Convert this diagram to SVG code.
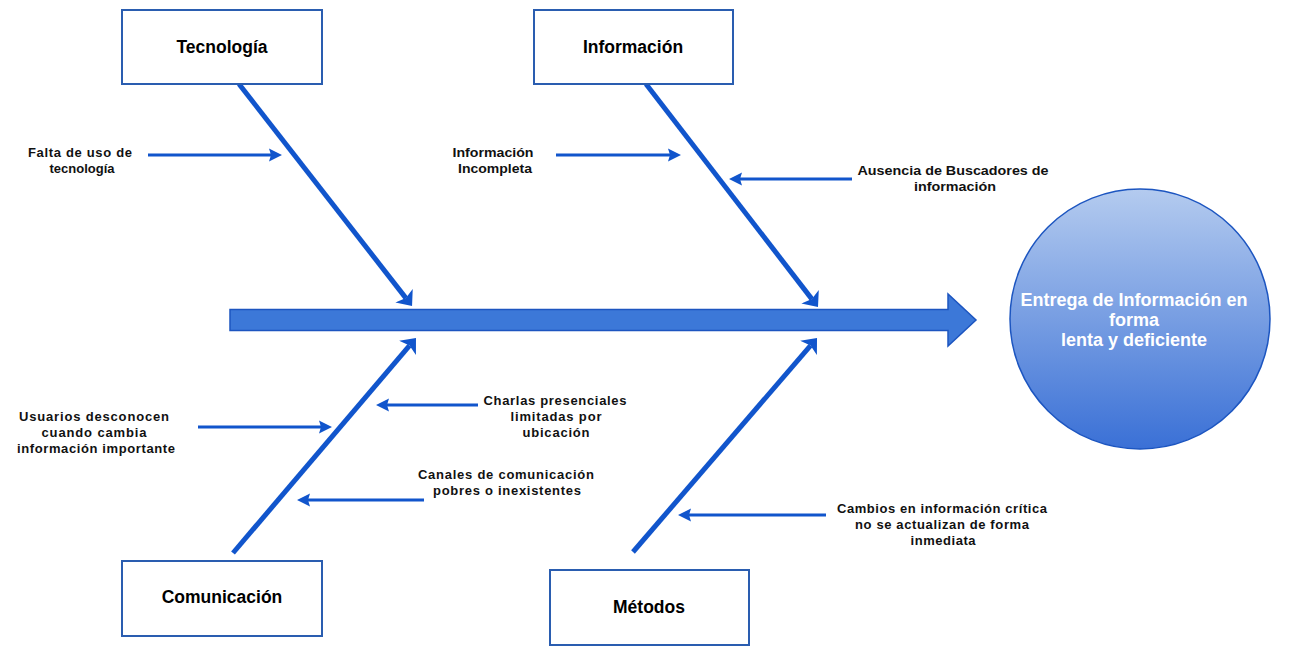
<svg xmlns="http://www.w3.org/2000/svg" width="1306" height="665" viewBox="0 0 1306 665">
<style>
.box{fill:#fff;stroke:#2a5db0;stroke-width:2}
.title{font-family:"Liberation Sans",Arial,sans-serif;font-weight:bold;font-size:17.5px;fill:#000;text-anchor:middle}
.lbl{font-family:"Liberation Sans",Arial,sans-serif;font-weight:bold;font-size:13px;fill:#111;text-anchor:middle}
.bone{stroke:#1155cc;stroke-width:5;fill:none;marker-end:url(#bh)}
.sub{stroke:#1155cc;stroke-width:3;fill:none;marker-end:url(#sh)}
.res{font-family:"Liberation Sans",Arial,sans-serif;font-weight:bold;font-size:18px;fill:#fff;text-anchor:middle}
</style>
<defs>
<marker id="bh" markerWidth="14" markerHeight="22" refX="3" refY="11" orient="auto" markerUnits="userSpaceOnUse">
<path d="M0,0 L13,11 L0,22 L3,11 Z" fill="#1155cc"/>
</marker>
<marker id="sh" markerWidth="14" markerHeight="14" refX="2" refY="7" orient="auto" markerUnits="userSpaceOnUse">
<path d="M0,0.5 L13,7 L0,13.5 L2,7 Z" fill="#1155cc"/>
</marker>
<linearGradient id="cg" x1="0" y1="0" x2="0" y2="1">
<stop offset="0" stop-color="#b4cbef"/>
<stop offset="1" stop-color="#3a70d6"/>
</linearGradient>
</defs>
<rect width="1306" height="665" fill="#fff"/>
<g id="spine">
<path d="M230,309.5 L948,309.5 L948,294 L976,320 L948,346 L948,330.5 L230,330.5 Z" fill="#3c78d8" stroke="#1c55c0" stroke-width="1.5"/>
</g>
<g id="connectors">
<line class="bone" x1="239" y1="84" x2="405.9" y2="298.1"/>
<line class="bone" x1="646" y1="84" x2="811.9" y2="299.1"/>
<line class="bone" x1="233" y1="553" x2="409.5" y2="345.6"/>
<line class="bone" x1="633" y1="552" x2="810.5" y2="345.6"/>
<line class="sub" x1="148" y1="155" x2="271" y2="155"/>
<line class="sub" x1="556" y1="155" x2="670" y2="155"/>
<line class="sub" x1="852" y1="179" x2="740" y2="179"/>
<line class="sub" x1="198" y1="427" x2="321" y2="427"/>
<line class="sub" x1="478" y1="405" x2="387" y2="405"/>
<line class="sub" x1="424" y1="500" x2="308" y2="500"/>
<line class="sub" x1="826" y1="515" x2="689" y2="515"/>
</g>
<g id="tecnologia">
<rect class="box" x="122" y="10" width="200" height="74"/>
<text class="title" x="222" y="53">Tecnología</text>
</g>
<g id="informacion">
<rect class="box" x="534" y="10" width="199" height="74"/>
<text class="title" x="633" y="53">Información</text>
</g>
<g id="comunicacion">
<rect class="box" x="122" y="561" width="200" height="75"/>
<text class="title" x="222" y="603">Comunicación</text>
</g>
<g id="metodos">
<rect class="box" x="550" y="570" width="199" height="75"/>
<text class="title" x="649" y="613">Métodos</text>
</g>
<g id="resultado">
<circle cx="1140" cy="319" r="130" fill="url(#cg)" stroke="#1c55c0" stroke-width="1.5"/>
<text class="res" x="1134" y="306">Entrega de Información en</text>
<text class="res" x="1134" y="326">forma</text>
<text class="res" x="1134" y="346">lenta y deficiente</text>
</g>
<g id="causes">
<text class="lbl" x="80" y="157" textLength="104" lengthAdjust="spacing">Falta de uso de</text>
<text class="lbl" x="82" y="173">tecnología</text>
<text class="lbl" x="493" y="157" textLength="81" lengthAdjust="spacingAndGlyphs">Información</text>
<text class="lbl" x="495" y="173" textLength="74" lengthAdjust="spacingAndGlyphs">Incompleta</text>
<text class="lbl" x="953" y="175" textLength="191" lengthAdjust="spacingAndGlyphs">Ausencia de Buscadores de</text>
<text class="lbl" x="955" y="191" textLength="82" lengthAdjust="spacingAndGlyphs">información</text>
<text class="lbl" x="94" y="421" textLength="150" lengthAdjust="spacing">Usuarios desconocen</text>
<text class="lbl" x="94" y="437" textLength="105" lengthAdjust="spacing">cuando cambia</text>
<text class="lbl" x="96" y="453" textLength="158" lengthAdjust="spacing">información importante</text>
<text class="lbl" x="555" y="405" textLength="143" lengthAdjust="spacing">Charlas presenciales</text>
<text class="lbl" x="556" y="421" textLength="91" lengthAdjust="spacing">limitadas por</text>
<text class="lbl" x="556" y="437" textLength="67" lengthAdjust="spacing">ubicación</text>
<text class="lbl" x="506" y="479" textLength="176" lengthAdjust="spacing">Canales de comunicación</text>
<text class="lbl" x="507" y="495" textLength="148" lengthAdjust="spacing">pobres o inexistentes</text>
<text class="lbl" x="942" y="513" textLength="210" lengthAdjust="spacing">Cambios en información crítica</text>
<text class="lbl" x="942" y="529" textLength="174" lengthAdjust="spacing">no se actualizan de forma</text>
<text class="lbl" x="943" y="545" textLength="65" lengthAdjust="spacing">inmediata</text>
</g>
</svg>
